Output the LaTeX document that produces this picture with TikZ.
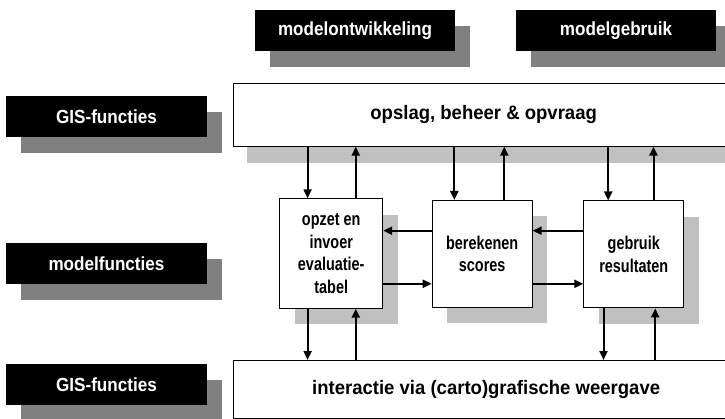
\documentclass[tikz,border=0pt]{standalone}
\usepackage{fontspec}
\setmainfont{Liberation Sans}
\newfontfamily\headfont[FakeStretch=0.9]{Liberation Sans}
\newfontfamily\layerfont[FakeStretch=0.95]{Liberation Sans}
\newfontfamily\narrowfont[FakeStretch=0.78]{Liberation Sans}
\usetikzlibrary{arrows.meta,shadows}

\definecolor{shadowdark}{RGB}{128,128,128}
\definecolor{shadowlight}{RGB}{192,192,192}

\tikzset{
  lbl/.style={fill=black, text=white, inner sep=0pt,
    minimum width=201pt, minimum height=41pt,
    font=\headfont\fontsize{19}{21}\selectfont\bfseries,
    general shadow={fill=shadowdark, shadow xshift=15pt, shadow yshift=-16pt}},
  layer/.style={draw=black, line width=0.9pt, fill=white, inner sep=0pt,
    anchor=north west, minimum height=63pt,
    font=\layerfont\fontsize{19.5}{22}\selectfont\bfseries,
    general shadow={fill=shadowlight, shadow xshift=14pt, shadow yshift=-17pt}},
  proc/.style={draw=black, line width=0.9pt, fill=white, inner sep=0pt,
    anchor=north west, minimum width=100pt, minimum height=107pt, align=center,
    font=\narrowfont\fontsize{18.5}{22.5}\selectfont\bfseries,
    general shadow={fill=shadowlight, shadow xshift=15pt, shadow yshift=-16pt}},
  arr/.style={line width=2pt, -{Triangle[length=9pt,width=8pt]}}
}

\begin{document}
\begin{tikzpicture}[x=1pt,y=-1pt]
  \useasboundingbox (0,0) rectangle (725,419);
  \clip (0,0) rectangle (725,419);

  % column headings
  \node[lbl, minimum width=200pt] (hdev) at (355,30.5) {modelontwikkeling};
  \node[lbl, minimum width=200pt] (huse) at (616,30.5) {modelgebruik};

  % row headings
  \node[lbl] (rgis1) at (106.5,116.5) {GIS-functies};
  \node[lbl] (rmod)  at (106.5,264)   {modelfuncties};
  \node[lbl] (rgis2) at (106.5,384.5) {GIS-functies};

  % GIS layers
  \node[layer, minimum width=501pt] (store) at (232.7,82.7) {opslag, beheer \& opvraag};
  \node[layer, minimum width=506pt, minimum height=57.5pt] (view) at (232.7,360) {interactie via (carto)grafische weergave};

  % model steps
  \node[proc, minimum width=103pt, minimum height=109.5pt] (setup) at (279.3,198.3) {opzet en\\invoer\\evaluatie-\\tabel};
  \node[proc] (calc) at (431.7,200) {berekenen\\scores};
  \node[proc] (use)  at (583.3,200.5) {gebruik\\resultaten};

  % x positions of the vertical connectors
  \coordinate (xa) at (307.6,0);
  \coordinate (xb) at (355.8,0);
  \coordinate (xc) at (454.3,0);
  \coordinate (xd) at (504.3,0);
  \coordinate (xe) at (608.2,0);
  \coordinate (xf) at (653.5,0);
  \coordinate (xg) at (603.5,0);
  \coordinate (xh) at (655.2,0);
  % y positions of the horizontal connectors
  \coordinate (yu) at (0,230.7);
  \coordinate (yl) at (0,283.8);

  % storage <-> model steps
  \draw[arr] (xa |- store.south) -- (xa |- setup.north);
  \draw[arr] (xb |- setup.north) -- (xb |- store.south);
  \draw[arr] (xc |- store.south) -- (xc |- calc.north);
  \draw[arr] (xd |- calc.north)  -- (xd |- store.south);
  \draw[arr] (xe |- store.south) -- (xe |- use.north);
  \draw[arr] (xf |- use.north)   -- (xf |- store.south);

  % between model steps
  \draw[arr] (calc.west |- yu)  -- (setup.east |- yu);
  \draw[arr] (setup.east |- yl) -- (calc.west |- yl);
  \draw[arr] (use.west |- yu)   -- (calc.east |- yu);
  \draw[arr] (calc.east |- yl)  -- (use.west |- yl);

  % model steps <-> map interaction
  \draw[arr] (xa |- setup.south) -- (xa |- view.north);
  \draw[arr] (xb |- view.north)  -- (xb |- setup.south);
  \draw[arr] (xg |- use.south)   -- (xg |- view.north);
  \draw[arr] (xh |- view.north)  -- (xh |- use.south);
\end{tikzpicture}
\end{document}
